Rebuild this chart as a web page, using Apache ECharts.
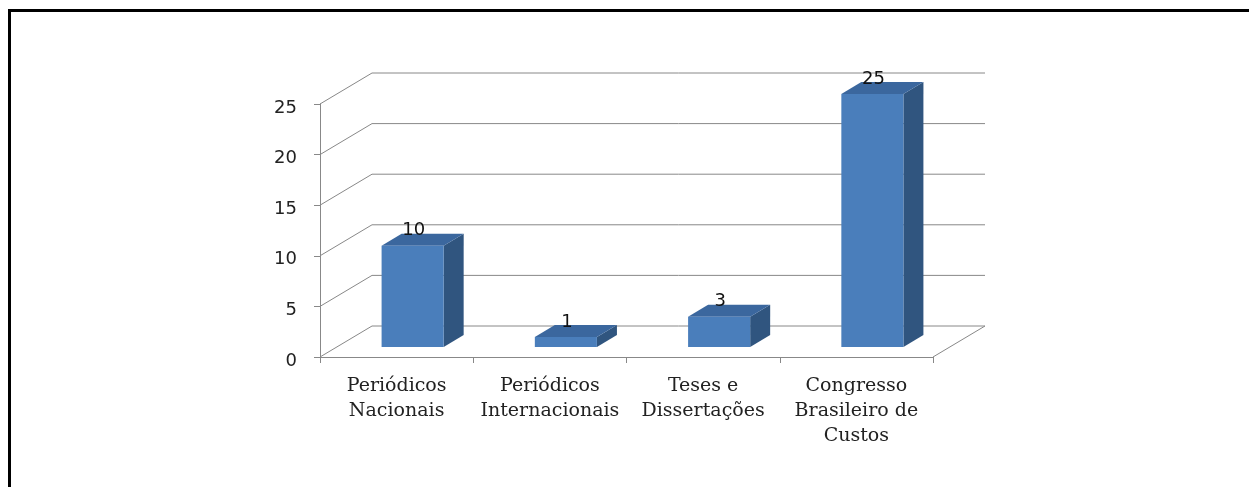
<!DOCTYPE html>
<html>
<head>
<meta charset="utf-8">
<script src="https://cdn.jsdelivr.net/npm/echarts@6/dist/echarts.min.js"></script>
<style>
  html, body { margin: 0; padding: 0; background: #fff; }
  #wrap { position: relative; width: 1249px; height: 487px; overflow: hidden; background: #fff; }
  #chart { position: absolute; left: 0; top: 0; width: 1249px; height: 487px; }
  #frame { position: absolute; left: 8px; top: 9px; width: 1300px; height: 600px;
           border-top: 3px solid #000; border-left: 3px solid #000; pointer-events: none; }
</style>
</head>
<body>
<div id="wrap">
  <div id="chart"></div>
  <div id="frame"></div>
</div>
<script>
// ---- data ----
const categories = ['Periódicos\nNacionais', 'Periódicos\nInternacionais', 'Teses e\nDissertações', 'Congresso\nBrasileiro de\nCustos'];
const values = [10, 1, 3, 25];
const yTicks = [0, 5, 10, 15, 20, 25];

// ---- style constants (3D look) ----
const WALL_DX = 52, WALL_DY = -31;   // depth of chart walls
const BAR_OFF_X = 16, BAR_OFF_Y = -10; // bar front plane offset from front axis plane
const BAR_DX = 20, BAR_DY = -12;     // bar depth
const GRID_COLOR = '#888888';
const FRONT = '#4a7ebb', TOP = '#3b679e', SIDE = '#30557f';

const chart = echarts.init(document.getElementById('chart'), null, { renderer: 'canvas' });

const option = {
  animation: false,
  backgroundColor: '#fff',
  grid: { left: 320, top: 104, width: 613, height: 253, containLabel: false },
  xAxis: {
    type: 'category',
    data: categories,
    boundaryGap: true,
    axisLine: { show: true, lineStyle: { color: GRID_COLOR, width: 1 } },
    axisTick: { show: true, length: 6, lineStyle: { color: GRID_COLOR } },
    axisLabel: {
      show: true, interval: 0, margin: 17,
      fontFamily: 'DejaVu Serif', fontSize: 19, color: '#222', lineHeight: 25
    },
    splitLine: { show: false }
  },
  yAxis: {
    type: 'value', min: 0, max: 25, interval: 5,
    axisLine: { show: true, lineStyle: { color: GRID_COLOR, width: 1 } },
    axisTick: { show: true, length: 6, lineStyle: { color: GRID_COLOR } },
    axisLabel: {
      margin: 23, color: '#222',
      formatter: '{v|{value}}',
      rich: { v: { fontFamily: 'DejaVu Sans', fontSize: 18, color: '#222', padding: [8, 0, 0, 0] } }
    },
    splitLine: { show: false }
  },
  series: [
    {
      type: 'custom',
      name: 'walls',
      silent: true,
      z: 1,
      data: yTicks.map(v => [0, v]),
      encode: { x: 0, y: 1 },
      renderItem: function (params, api) {
        const cs = params.coordSys;
        const v = api.value(1);
        const y = api.coord([0, v])[1];
        const left = cs.x, right = cs.x + cs.width;
        const children = [
          { type: 'line', shape: { x1: left, y1: y, x2: left + WALL_DX, y2: y + WALL_DY },
            style: { stroke: GRID_COLOR, lineWidth: 1 } },
          { type: 'line', shape: { x1: left + WALL_DX, y1: y + WALL_DY, x2: right + WALL_DX, y2: y + WALL_DY },
            style: { stroke: GRID_COLOR, lineWidth: 1 } }
        ];
        if (v === 0) {
          children.push({ type: 'line', shape: { x1: right, y1: y, x2: right + WALL_DX, y2: y + WALL_DY },
            style: { stroke: GRID_COLOR, lineWidth: 1 } });
        }
        return { type: 'group', children: children };
      }
    },
    {
      type: 'custom',
      name: 'bars',
      z: 5,
      data: values.map((v, i) => [i, v]),
      encode: { x: 0, y: 1 },
      renderItem: function (params, api) {
        const i = api.value(0), v = api.value(1);
        const c0 = api.coord([i, 0]);
        const c1 = api.coord([i, v]);
        const bw = api.size([1, 0])[0] * 0.405;
        const cx = c0[0] + BAR_OFF_X;
        const xl = cx - bw / 2, xr = cx + bw / 2;
        const yb = c0[1] + BAR_OFF_Y, yt = c1[1] + BAR_OFF_Y;
        return {
          type: 'group',
          children: [
            { type: 'polygon', shape: { points: [[xr, yt], [xr + BAR_DX, yt + BAR_DY], [xr + BAR_DX, yb + BAR_DY], [xr, yb]] },
              style: { fill: SIDE } },
            { type: 'polygon', shape: { points: [[xl, yt], [xl + BAR_DX, yt + BAR_DY], [xr + BAR_DX, yt + BAR_DY], [xr, yt]] },
              style: { fill: TOP } },
            { type: 'rect', shape: { x: xl, y: yt, width: bw, height: yb - yt },
              style: { fill: FRONT } },
            { type: 'text', x: cx + 1, y: yt + BAR_DY - 3,
              style: { text: String(v), fontFamily: 'DejaVu Sans', fontSize: 18, fill: '#111',
                       textAlign: 'center', textVerticalAlign: 'middle' } }
          ]
        };
      }
    }
  ]
};
chart.setOption(option);
</script>
</body>
</html>
